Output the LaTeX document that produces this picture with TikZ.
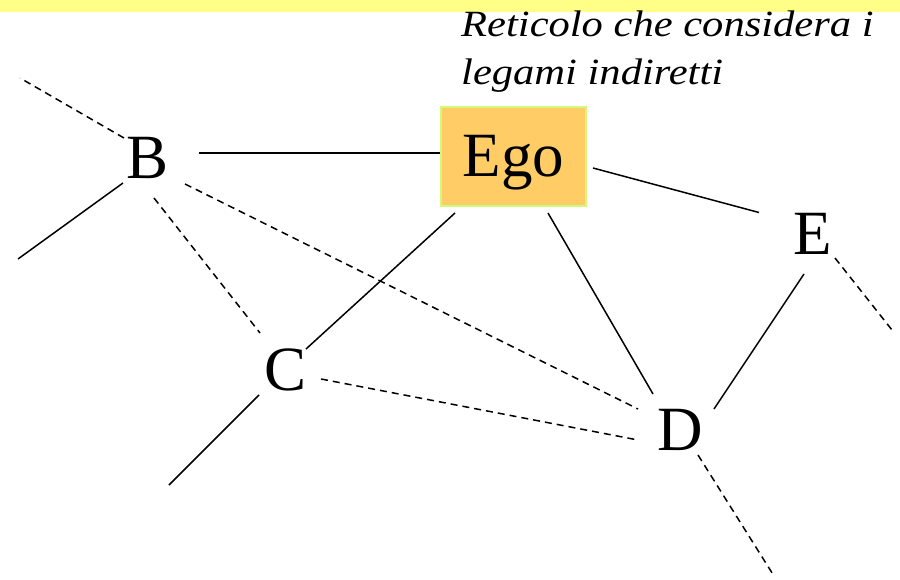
\documentclass[tikz,border=0pt]{standalone}
\usepackage{fontspec}
\setmainfont{Liberation Serif}
\newfontfamily\notefont{Liberation Serif}[FakeStretch=1.15]
\pgfdeclarelayer{edgelayer}
\pgfdeclarelayer{nodelayer}
\pgfsetlayers{edgelayer,nodelayer,main}
\definecolor{bandyellow}{RGB}{255,255,136}
\definecolor{egofill}{RGB}{255,204,102}
\definecolor{egoborder}{RGB}{210,250,120}
\tikzstyle{tie}=[draw=black, line width=1.5pt]
\tikzstyle{indirect}=[draw=black, line width=1.5pt, dash pattern=on 7pt off 5pt]
\tikzstyle{actor}=[inner sep=0pt, font=\fontsize{63}{70}\selectfont]
\tikzstyle{egobox}=[actor, fill=egofill, draw=egoborder, line width=2pt, minimum width=145pt, text height=70pt, text depth=29pt]
\tikzstyle{remark}=[inner sep=0pt, align=left, font=\notefont\itshape\fontsize{37}{48.3}\selectfont]

\begin{document}
\begin{tikzpicture}[x=1pt,y=-1pt]
				\useasboundingbox (0,0) rectangle (900,580);
				\begin{pgfonlayer}{nodelayer}
					\node [style=remark, anchor=base west] (title) at (461,85) {Reticolo che considera i\\legami indiretti};
					\node [style=egobox] (Ego) at (513.5,156.5) {Ego};
					\node [style=actor] (B) at (147.5,158) {B};
					\node [style=actor] (C) at (285.5,370) {C};
					\node [style=actor] (D) at (680,430) {D};
					\node [style=actor] (E) at (812.5,234) {E};
					\coordinate (b1) at (20,78);
					\coordinate (b2) at (18,259);
					\coordinate (c1) at (169,485);
					\coordinate (d1) at (774,576);
					\coordinate (e1) at (892,330);
				\end{pgfonlayer}
				\begin{pgfonlayer}{edgelayer}
					\fill [bandyellow] (0,0) rectangle (900,12);
					% legami diretti
					\draw [style=tie] ([shift={(51.5,-5)}]B.center) to ([shift={(-72.5,-3.5)}]Ego.center);
					\draw [style=tie] ([shift={(79.5,11.5)}]Ego.center) to ([shift={(-53.5,-21.5)}]E.center);
					\draw [style=tie] ([shift={(-58.5,56.5)}]Ego.center) to ([shift={(20.5,-21)}]C.center);
					\draw [style=tie] ([shift={(34.5,56.5)}]Ego.center) to ([shift={(-27,-36)}]D.center);
					\draw [style=tie] ([shift={(-8.5,40)}]E.center) to ([shift={(34,-21)}]D.center);
					\draw [style=tie] ([shift={(-24.5,25)}]B.center) to (b2);
					\draw [style=tie] ([shift={(-26.5,25)}]C.center) to (c1);
					% legami indiretti
					\draw [style=indirect] ([shift={(6.5,40)}]B.center) to ([shift={(-25.5,-37)}]C.center);
					\draw [style=indirect] ([shift={(37.5,26)}]B.center) to ([shift={(-42,-21)}]D.center);
					\draw [style=indirect] ([shift={(35.5,9)}]C.center) to ([shift={(-42,10)}]D.center);
					\draw [style=indirect] ([shift={(-23.5,-20)}]B.center) to (b1);
					\draw [style=indirect] ([shift={(22.5,24)}]E.center) to (e1);
					\draw [style=indirect] ([shift={(18,25)}]D.center) to (d1);
				\end{pgfonlayer}
			\end{tikzpicture}
\end{document}
